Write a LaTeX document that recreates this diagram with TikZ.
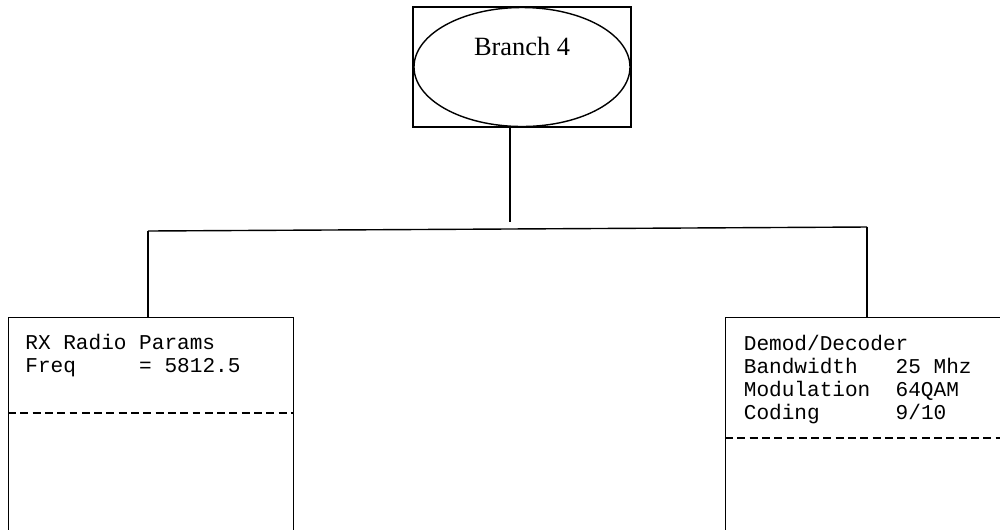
\documentclass[tikz,border=0pt]{standalone}
\usepackage{fontspec}
\setmainfont{Liberation Serif}
\setmonofont{Liberation Mono}
\usetikzlibrary{shapes.geometric, positioning, calc}

\begin{document}
\begin{tikzpicture}[
  rootbox/.style={rectangle, draw, line width=0.8pt, minimum width=4.36cm, minimum height=2.4cm, inner sep=0pt},
  rootoval/.style={ellipse, draw, line width=0.8pt, minimum width=4.32cm, minimum height=2.38cm, inner sep=0pt},
  parambox/.style={rectangle, draw, line width=0.8pt, anchor=north west, inner sep=0pt},
  paramline/.style={anchor=base west, inner sep=0pt, font=\ttfamily\fontsize{12}{13}\selectfont},
  link/.style={line width=0.8pt},
  divider/.style={line width=0.8pt, dash pattern=on 4.5pt off 2.5pt}
  ]
  \useasboundingbox (0,0) rectangle (20,-10.58);
  \clip (0,0) rectangle (20,-10.58);
  % root
  \node[rootbox] (root) at (10.44,-1.34) {};
  \node[rootoval] (oval) at (root) {};
  \node[anchor=base, inner sep=0pt, font=\fontsize{15}{18}\selectfont] (rootlbl) at (10.44,-1.114) {Branch 4};
  % leaves
  \node[parambox, minimum width=5.7cm, minimum height=4.9cm] (rx) at (0.16,-6.34) {};
  \node[parambox, minimum width=6.2cm, minimum height=4.9cm] (demod) at (14.5,-6.34) {};
  \draw[divider] (rx.west |- 0,-8.26) -- (rx.east |- 0,-8.26);
  \draw[divider] (demod.west |- 0,-8.76) -- (demod.east |- 0,-8.76);
  % texts
  \node[paramline] (rx1) at (0.5,-6.99) {RX Radio Params};
  \node[paramline, below=0.46cm of rx1.base west, anchor=base west] (rx2) {Freq\ \ \ \ \ = 5812.5};
  \node[paramline] (dm1) at (14.87,-7.01) {Demod/Decoder};
  \node[paramline, below=0.463cm of dm1.base west, anchor=base west] (dm2) {Bandwidth\ \ \ 25 Mhz};
  \node[paramline, below=0.463cm of dm2.base west, anchor=base west] (dm3) {Modulation\ \ 64QAM};
  \node[paramline, below=0.463cm of dm3.base west, anchor=base west] (dm4) {Coding\ \ \ \ \ \ 9/10};
  % connectors
  \coordinate (trunk) at (10.2,-4.44);
  \coordinate (busl) at (2.96,-4.62);
  \coordinate (busr) at (17.34,-4.54);
  \draw[link] (trunk |- root.south) -- (trunk);
  \draw[link] (busl) -- (busr);
  \draw[link] (busl) -- (busl |- rx.north);
  \draw[link] (busr) -- (busr |- demod.north);
\end{tikzpicture}
\end{document}
